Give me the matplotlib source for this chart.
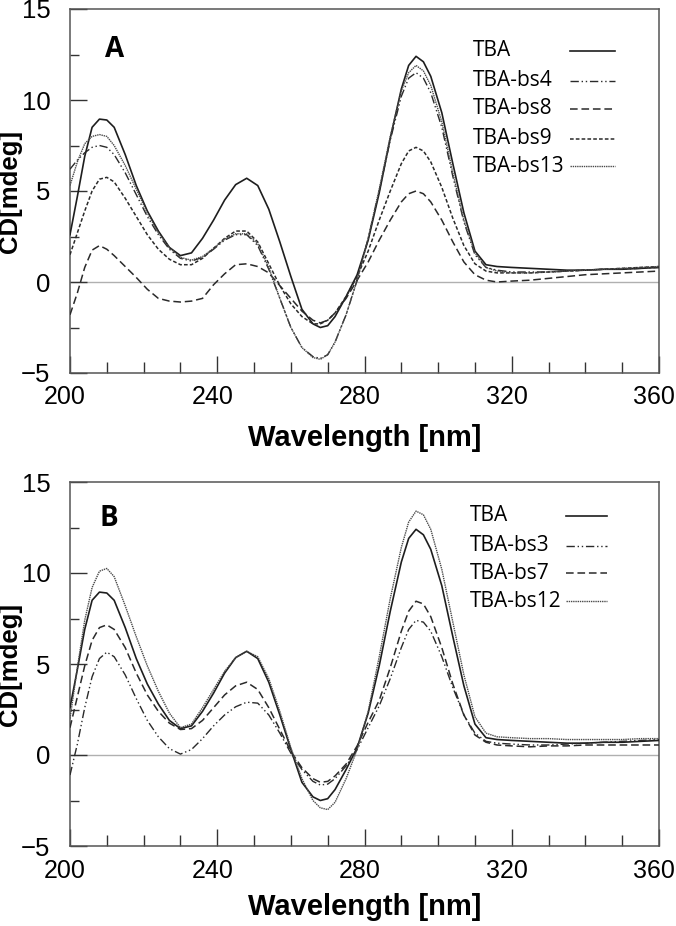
import matplotlib
matplotlib.use("Agg")
import matplotlib.pyplot as plt
from matplotlib.ticker import MultipleLocator
from matplotlib.lines import Line2D
from matplotlib.transforms import ScaledTranslation

wavelength = [200, 202, 204, 206, 208, 210, 212, 215, 218, 221, 224, 227, 230, 233, 236, 239,
              242, 245, 248, 251, 254, 257, 260, 263, 266, 268, 270, 272, 275, 278, 281, 284,
              287, 290, 292, 294, 296, 298, 301, 304, 307, 310, 313, 316, 320, 325, 330, 335,
              340, 345, 350, 355, 360]

tba = [2.6, 4.7, 6.9, 8.5, 8.95, 8.9, 8.5, 7.0, 5.3, 3.9, 2.8, 1.9, 1.45, 1.6, 2.4, 3.4,
       4.5, 5.35, 5.7, 5.3, 4.0, 2.2, 0.3, -1.5, -2.3, -2.5, -2.4, -1.9, -0.8, 0.4, 2.3, 4.9,
       7.9, 10.6, 11.9, 12.4, 12.1, 11.3, 9.3, 6.5, 3.8, 1.7, 0.95, 0.85, 0.8, 0.75, 0.7, 0.65,
       0.65, 0.7, 0.7, 0.75, 0.8]

# Panel A
tba_bs4 = [6.2, 6.7, 7.1, 7.4, 7.5, 7.4, 7.0, 6.0, 4.8, 3.6, 2.6, 1.8, 1.3, 1.15, 1.35, 1.8,
           2.3, 2.6, 2.6, 2.0, 0.7, -0.9, -2.5, -3.6, -4.1, -4.2, -4.0, -3.3, -1.8, 0.1, 2.4, 5.0,
           7.8, 10.2, 11.2, 11.5, 11.2, 10.4, 8.5, 5.8, 3.3, 1.5, 0.8, 0.65, 0.55, 0.55, 0.55, 0.6,
           0.65, 0.7, 0.7, 0.75, 0.8]
tba_bs8 = [-1.8, -0.6, 0.8, 1.75, 2.0, 1.8, 1.45, 0.85, 0.25, -0.4, -0.9, -1.05, -1.1, -1.05, -0.9, -0.15,
           0.45, 0.95, 1.0, 0.85, 0.5, -0.2, -0.9, -1.6, -2.1, -2.25, -2.1, -1.7, -0.9, 0.1, 1.1, 2.3,
           3.4, 4.4, 4.85, 5.0, 4.85, 4.4, 3.4, 2.2, 1.1, 0.4, 0.1, 0.0, 0.05, 0.1, 0.2, 0.3,
           0.4, 0.45, 0.5, 0.55, 0.6]
tba_bs9 = [1.5, 2.7, 3.9, 5.0, 5.65, 5.75, 5.5, 4.6, 3.6, 2.6, 1.8, 1.25, 0.95, 0.95, 1.3, 1.85,
           2.4, 2.8, 2.8, 2.2, 1.0, -0.2, -1.2, -1.9, -2.3, -2.3, -2.1, -1.7, -0.8, 0.3, 1.7, 3.4,
           5.0, 6.5, 7.2, 7.4, 7.2, 6.6, 5.2, 3.5, 2.0, 1.0, 0.6, 0.5, 0.5, 0.5, 0.55, 0.6,
           0.65, 0.7, 0.75, 0.8, 0.85]
tba_bs13 = [5.3, 6.6, 7.6, 8.0, 8.1, 8.0, 7.5, 6.4, 5.1, 3.8, 2.7, 1.9, 1.35, 1.2, 1.4, 1.85,
            2.35, 2.65, 2.65, 2.1, 0.8, -0.9, -2.5, -3.6, -4.15, -4.25, -4.0, -3.3, -1.8, 0.1, 2.4, 5.1,
            8.0, 10.5, 11.5, 11.9, 11.6, 10.8, 8.8, 6.0, 3.4, 1.6, 0.8, 0.6, 0.5, 0.5, 0.55, 0.6,
            0.65, 0.7, 0.75, 0.8, 0.85]

# Panel B
tba_bs3 = [-1.1, 0.6, 2.6, 4.3, 5.3, 5.65, 5.4, 4.4, 3.1, 1.9, 1.0, 0.35, 0.05, 0.3, 0.9, 1.6,
           2.2, 2.65, 2.9, 2.85, 2.2, 1.2, 0.1, -0.8, -1.45, -1.65, -1.6, -1.3, -0.6, 0.3, 1.5, 2.7,
           4.2, 5.9, 6.9, 7.4, 7.3, 6.8, 5.4, 3.7, 2.2, 1.2, 0.75, 0.65, 0.6, 0.55, 0.55, 0.6,
           0.65, 0.7, 0.75, 0.8, 0.85]
tba_bs7 = [1.5, 3.2, 4.9, 6.3, 7.0, 7.15, 6.9, 5.9, 4.5, 3.3, 2.4, 1.75, 1.4, 1.45, 1.9, 2.6,
           3.3, 3.8, 4.0, 3.6, 2.6, 1.4, 0.2, -0.7, -1.3, -1.5, -1.45, -1.15, -0.5, 0.5, 1.8, 3.0,
           4.8, 6.8, 7.9, 8.45, 8.3, 7.6, 5.9, 3.9, 2.2, 1.1, 0.7, 0.55, 0.5, 0.45, 0.5, 0.5,
           0.55, 0.55, 0.55, 0.55, 0.55]
tba_bs12 = [2.0, 4.8, 7.4, 9.2, 10.1, 10.25, 9.8, 8.2, 6.5, 4.9, 3.5, 2.3, 1.5, 1.7, 2.6, 3.6,
            4.6, 5.35, 5.7, 5.4, 4.2, 2.4, 0.4, -1.3, -2.5, -2.9, -3.0, -2.6, -1.3, 0.3, 2.4, 5.4,
            8.6, 11.4, 12.8, 13.4, 13.2, 12.4, 10.2, 7.3, 4.4, 2.1, 1.2, 1.0, 0.95, 0.9, 0.9, 0.85,
            0.85, 0.85, 0.85, 0.9, 0.9]

labels_a = ["TBA", "TBA-bs4", "TBA-bs8", "TBA-bs9", "TBA-bs13"]
labels_b = ["TBA", "TBA-bs3", "TBA-bs7", "TBA-bs12"]

STY = {
    "solid": dict(linestyle="-", lw=1.2, color="#1e1e1e"),
    "dashdotdot": dict(linestyle=(0, (6, 2, 1, 2, 1, 2)), lw=1.0, color="#2a2a2a"),
    "longdash": dict(linestyle=(0, (5, 2.5)), lw=1.1, color="#2a2a2a"),
    "shortdash": dict(linestyle=(0, (2.4, 1.4)), lw=1.1, color="#2a2a2a"),
    "dotted": dict(linestyle=(0, (1, 0.6)), lw=1.0, color="#4a4a4a"),
}

fig = plt.figure(figsize=(6.76, 9.26), dpi=100)
W, H = 676, 926


def make_ax(top_px, bot_px):
    return fig.add_axes([70 / W, 1 - bot_px / H, 589 / W, (bot_px - top_px) / H])


axA = make_ax(9, 373)
axB = make_ax(482, 846)

NUM_FONT = ["Liberation Sans", "DejaVu Sans"]
LEG_FONT = ["Open Sans", "DejaVu Sans"]


def style_ax(ax, xlabel_y):
    ax.set_xlim(200, 360)
    ax.set_ylim(-5, 15)
    ax.axhline(0, color="#b0b0b0", lw=1.0, zorder=1)
    for s in ax.spines.values():
        s.set_color("#555555")
        s.set_linewidth(1.1)
    ax.xaxis.set_major_locator(MultipleLocator(40))
    ax.xaxis.set_minor_locator(MultipleLocator(10))
    ax.yaxis.set_major_locator(MultipleLocator(5))
    ax.yaxis.set_minor_locator(MultipleLocator(2.5))
    ax.tick_params(axis="both", which="both", direction="in", top=False, right=False,
                   color="#333333", width=1.0)
    ax.tick_params(axis="x", which="major", length=12, pad=9)
    ax.tick_params(axis="x", which="minor", length=8)
    ax.tick_params(axis="y", which="major", length=12, pad=14)
    ax.tick_params(axis="y", which="minor", length=6.5)
    shift = ScaledTranslation(-5 / 100, 0, fig.dpi_scale_trans)
    for lab in ax.get_xticklabels():
        lab.set_family(NUM_FONT)
        lab.set_fontsize(18)
        lab.set_transform(lab.get_transform() + shift)
    for lab in ax.get_yticklabels():
        lab.set_family(NUM_FONT)
        lab.set_fontsize(18.5)
    ax.set_xlabel("Wavelength [nm]", family=NUM_FONT, fontweight="bold", fontsize=21)
    ax.xaxis.set_label_coords(0.5, xlabel_y)
    ax.set_ylabel("CD[mdeg]", family=NUM_FONT, fontweight="bold", fontsize=18.5)
    ax.yaxis.set_label_coords(-0.081, 0.5)


def legend_block(ax, labels, styles, x_text, y_rows, x_line):
    for lab, st, y in zip(labels, styles, y_rows):
        ax.text(x_text, y, lab, transform=ax.transAxes, family=LEG_FONT, fontsize=15,
                va="center", ha="left")
        ln = Line2D(x_line, [y, y], transform=ax.transAxes, clip_on=False, **STY[st])
        ax.add_line(ln)


# Panel A
series_a = [tba, tba_bs4, tba_bs8, tba_bs9, tba_bs13]
styles_a = ["solid", "dashdotdot", "longdash", "shortdash", "dotted"]
for ys, st in zip(series_a, styles_a):
    axA.plot(wavelength, ys, zorder=3, solid_joinstyle="round", **STY[st])
style_ax(axA, -0.14)
legend_block(axA, labels_a, styles_a, 0.684, [0.885, 0.803, 0.726, 0.644, 0.568], [0.849, 0.925])
axA.text(0.075, 0.89, "A", transform=axA.transAxes, fontsize=20, fontweight="bold",
         family=["Open Sans", "DejaVu Sans"], ha="center", va="center")

# Panel B
series_b = [tba, tba_bs3, tba_bs7, tba_bs12]
styles_b = ["solid", "dashdotdot", "longdash", "dotted"]
for ys, st in zip(series_b, styles_b):
    axB.plot(wavelength, ys, zorder=3, solid_joinstyle="round", **STY[st])
style_ax(axB, -0.128)
legend_block(axB, labels_b, styles_b, 0.679, [0.907, 0.825, 0.749, 0.673], [0.842, 0.912])
axB.text(0.066, 0.90, "B", transform=axB.transAxes, fontsize=20, fontweight="bold",
         family=["Open Sans", "DejaVu Sans"], ha="center", va="center")

fig.savefig("out.png", dpi=100)
